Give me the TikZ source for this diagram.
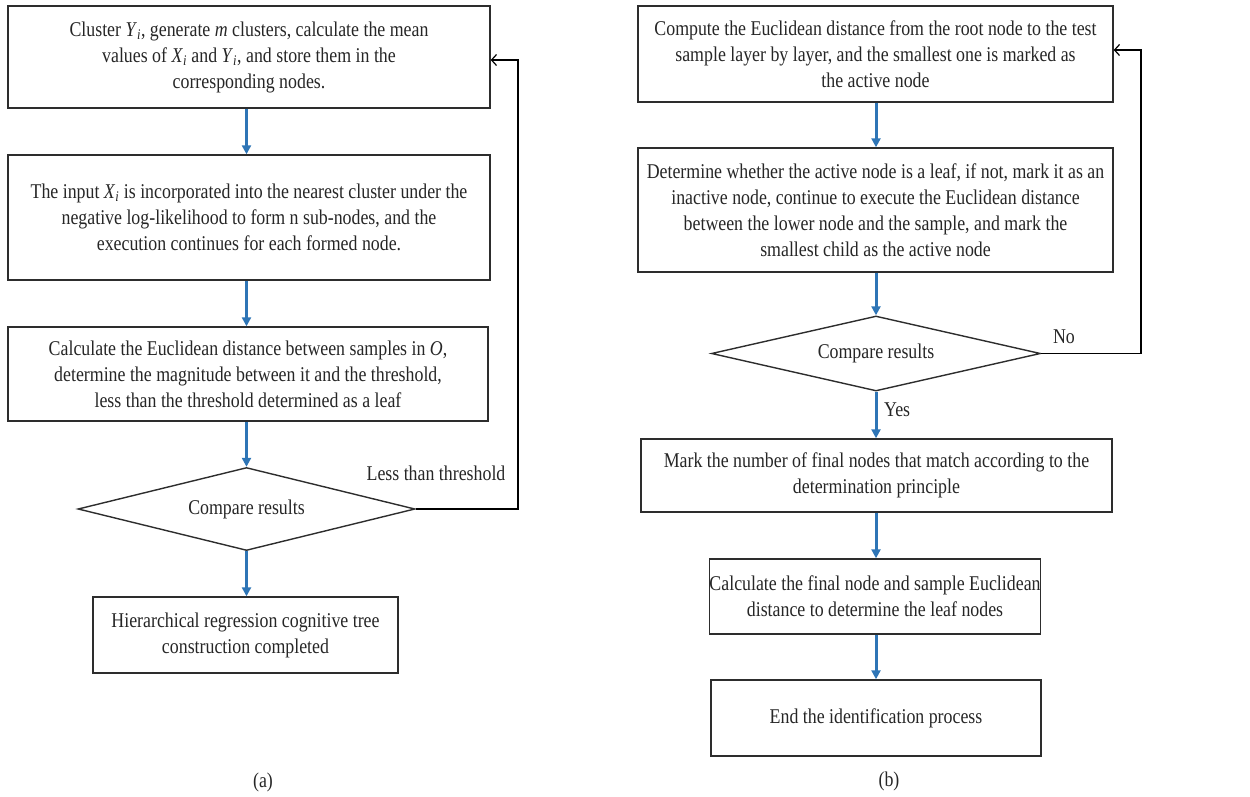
\documentclass[tikz,border=0pt]{standalone}
\usepackage{fontspec}
\setmainfont{Liberation Serif}[FakeStretch=0.85]
\usetikzlibrary{arrows.meta,shapes.geometric}
\newcommand\vsub[1]{\textit{#1}\textsubscript{\textit{i}}}
\definecolor{flowblue}{RGB}{46,117,182}
\definecolor{boxline}{RGB}{45,45,45}
\begin{document}
\begin{tikzpicture}[x=1pt,y=-1pt,
  every node/.style={font=\fontsize{21pt}{26pt}\selectfont, text=black!85},
  procbox/.style={draw=boxline, line width=1.4pt, rectangle, inner sep=0pt, align=center},
  decbox/.style={draw=boxline, line width=1.4pt, diamond, aspect=4, inner sep=0pt},
  flow/.style={draw=flowblue, line width=3pt, -{Triangle[length=9pt,width=9pt]}},
  back/.style={draw=black, line width=1.2pt, -{Straight Barb[length=5pt,width=11pt]}},
  lbl/.style={inner sep=0pt}]
\useasboundingbox (0,0) rectangle (1250,797);
% ---------- (a) ----------
\node[procbox, minimum width=482pt, minimum height=102pt] (a1) at (249,57)
  {Cluster \vsub{Y}, generate \textit{m} clusters, calculate the mean\\values of \vsub{X} and \vsub{Y}, and store them in the\\corresponding nodes.};
\node[procbox, minimum width=482pt, minimum height=125pt] (a2) at (249,217.5)
  {The input \vsub{X} is incorporated into the nearest cluster under the\\negative log-likelihood to form n sub-nodes, and the\\execution continues for each formed node.};
\node[procbox, minimum width=480pt, minimum height=94pt] (a3) at (248,374)
  {Calculate the Euclidean distance between samples in \textit{O},\\determine the magnitude between it and the threshold,\\less than the threshold determined as a leaf};
\node[decbox, minimum width=337pt, minimum height=83pt] (ad) at (246.5,509) {Compare results};
\node[procbox, minimum width=305pt, minimum height=76pt] (a4) at (245.5,635)
  {Hierarchical regression cognitive tree\\construction completed};
\node[lbl] (la) at (436,473) {Less than threshold};
\node[lbl] (capa) at (263,782) {(a)};
\coordinate (ca) at (518,60);
\draw[flow] (a1.south -| ad.north) -- (a2.north -| ad.north);
\draw[flow] (a2.south -| ad.north) -- (a3.north -| ad.north);
\draw[flow] (a3.south -| ad.north) -- (ad.north);
\draw[flow] (ad.south) -- (a4.north -| ad.south);
\draw[back] (ad.east) -| (ca) -- (a1.east |- ca);
% ---------- (b) ----------
\node[procbox, minimum width=475pt, minimum height=96pt] (b1) at (875.5,54)
  {Compute the Euclidean distance from the root node to the test\\sample layer by layer, and the smallest one is marked as\\the active node};
\node[procbox, minimum width=475pt, minimum height=124pt] (b2) at (875.5,210)
  {Determine whether the active node is a leaf, if not, mark it as an\\inactive node, continue to execute the Euclidean distance\\between the lower node and the sample, and mark the\\smallest child as the active node};
\node[decbox, minimum width=329pt, minimum height=75pt] (bd) at (876,353.5) {Compare results};
\node[procbox, minimum width=471pt, minimum height=73pt] (b3) at (876.5,475.5)
  {Mark the number of final nodes that match according to the\\determination principle};
\node[procbox, minimum width=330pt, minimum height=75pt] (b4) at (875,596.5)
  {Calculate the final node and sample Euclidean\\distance to determine the leaf nodes};
\node[procbox, minimum width=330pt, minimum height=76pt] (b5) at (876,718)
  {End the identification process};
\node[lbl] (lno) at (1064,337) {No};
\node[lbl, anchor=west] (lyes) at (884,410) {Yes};
\node[lbl] (capb) at (889,781) {(b)};
\coordinate (cb) at (1141,50);
\draw[flow] (b1.south -| bd.north) -- (b2.north -| bd.north);
\draw[flow] (b2.south -| bd.north) -- (bd.north);
\draw[flow] (bd.south) -- (b3.north -| bd.south);
\draw[flow] (b3.south -| bd.south) -- (b4.north -| bd.south);
\draw[flow] (b4.south -| bd.south) -- (b5.north -| bd.south);
\draw[back] (bd.east) -| (cb) -- (b1.east |- cb);
\end{tikzpicture}
\end{document}
